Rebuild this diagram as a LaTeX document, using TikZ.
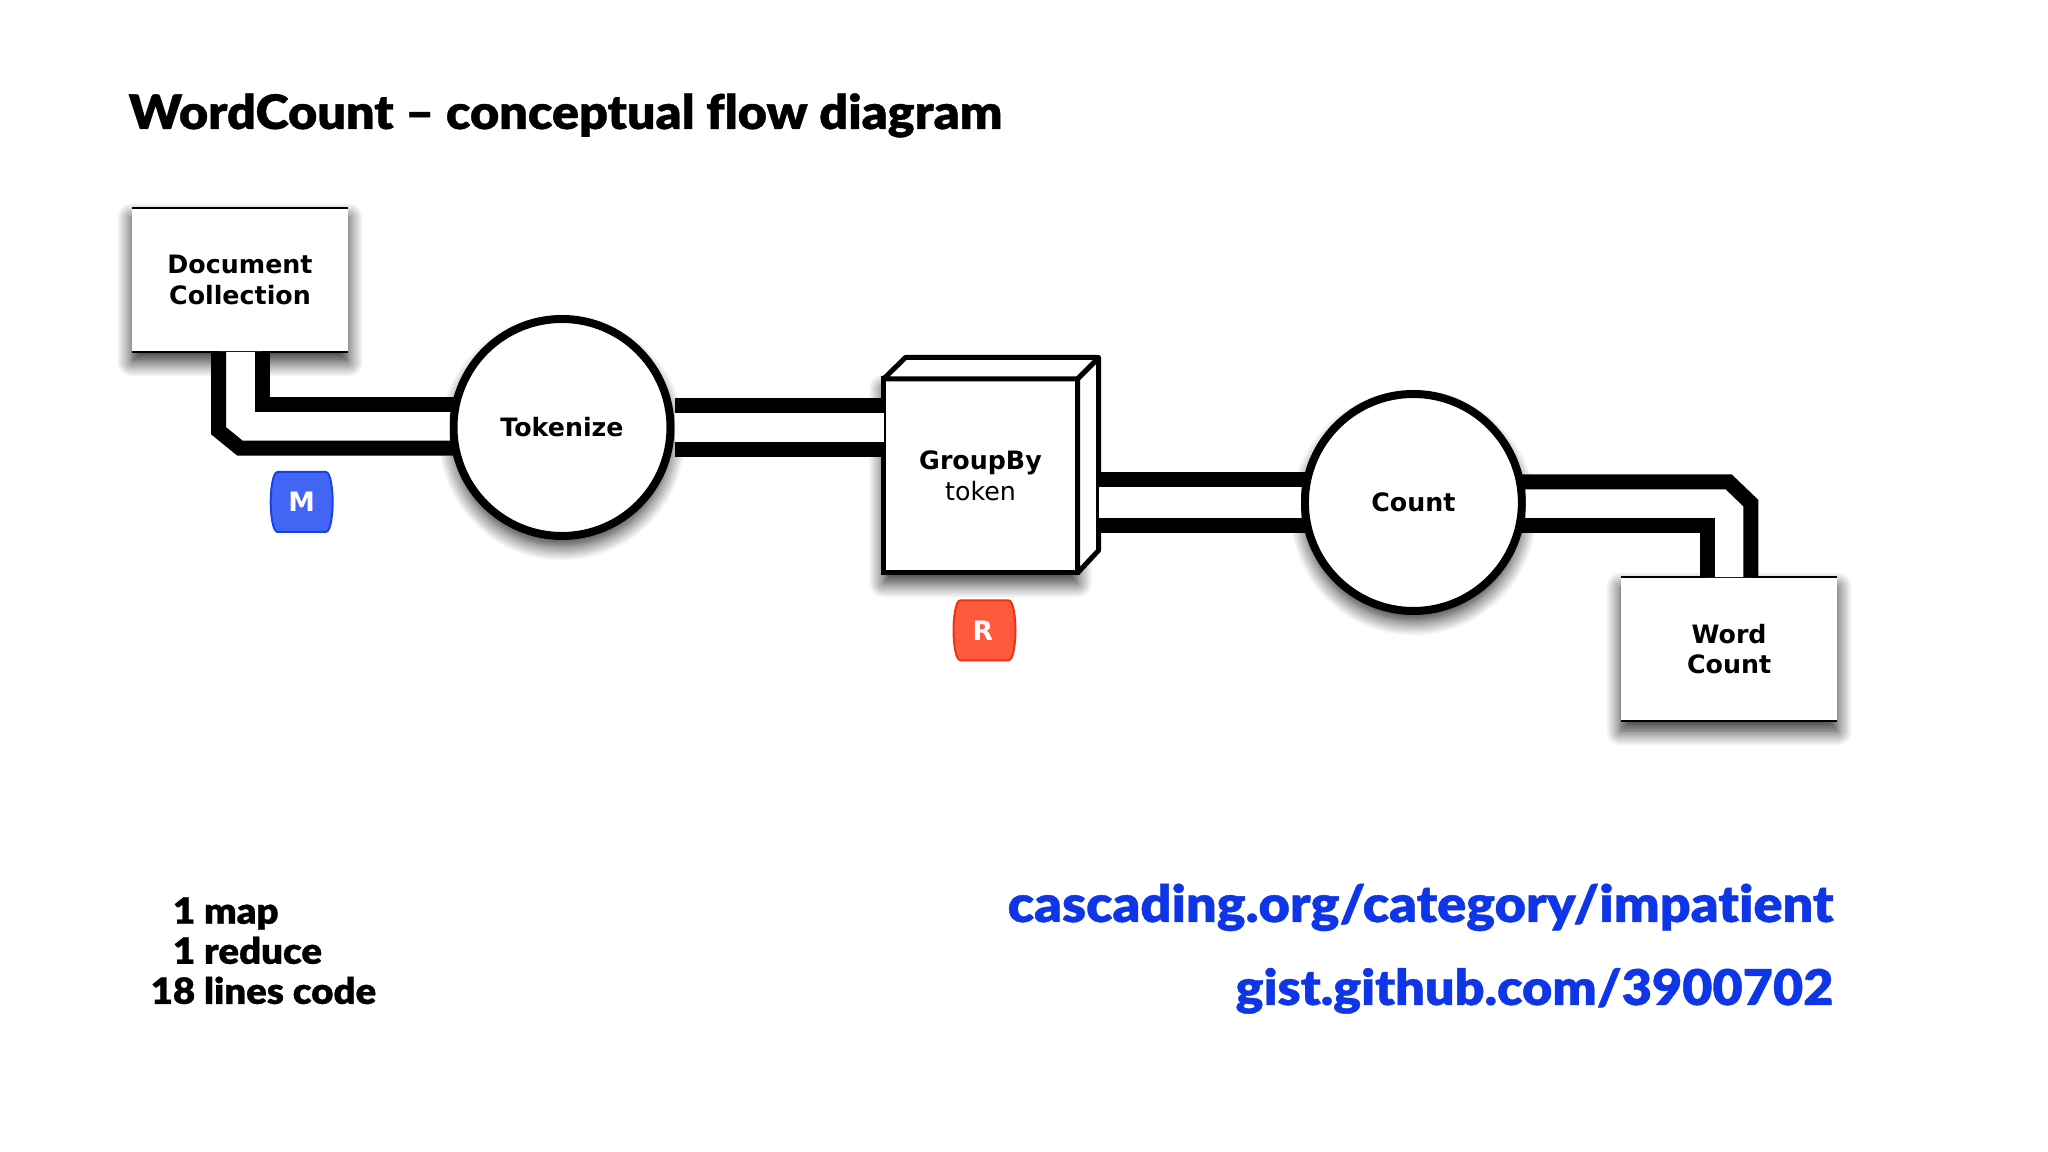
\documentclass[tikz,border=0pt]{standalone}
\usepackage{fontspec}
\setmainfont{DejaVu Sans}
\newfontfamily\heavyfont[FakeBold=0.8,FakeStretch=1.06,Ligatures=NoCommon]{Lato Black}
\usepackage{tikz}
\usetikzlibrary{calc,shadows.blur}
\definecolor{badgeblue}{HTML}{4466F6}
\definecolor{badgebluedark}{HTML}{1A40E8}
\definecolor{badgered}{HTML}{FF5A3E}
\definecolor{badgereddark}{HTML}{F03212}
\definecolor{linkblue}{HTML}{0F36E6}
\def\barrel[#1](#2){\filldraw[#1] ($(#2)+(-0.24,0.30)$) -- ($(#2)+(0.24,0.30)$) .. controls ($(#2)+(0.29,0.30)$) and ($(#2)+(0.31,0.12)$) .. ($(#2)+(0.31,0)$) .. controls ($(#2)+(0.31,-0.12)$) and ($(#2)+(0.29,-0.30)$) .. ($(#2)+(0.24,-0.30)$) -- ($(#2)+(-0.24,-0.30)$) .. controls ($(#2)+(-0.29,-0.30)$) and ($(#2)+(-0.31,-0.12)$) .. ($(#2)+(-0.31,0)$) .. controls ($(#2)+(-0.31,0.12)$) and ($(#2)+(-0.29,0.30)$) .. ($(#2)+(-0.24,0.30)$) -- cycle;}
\tikzset{
	dropshadow/.style={blur shadow={shadow xshift=0cm,shadow yshift=-0.10cm,shadow blur radius=0.15cm,shadow blur steps=14,shadow opacity=85}},
	tapbox/.style={rectangle,fill=white,minimum width=2.166cm,minimum height=1.44cm,outer sep=0,align=center,dropshadow},
	opcircle/.style={circle,draw=black,line width=0.08cm,fill=white,minimum size=2.17cm,outer sep=0,align=center,dropshadow},
	groupbox/.style={rectangle,draw=black,line width=0.05cm,fill=white,minimum size=1.94cm,outer sep=0,align=center},
	band/.style={line width=0.15cm,line join=miter},
	pipe/.style={line width=0.15cm,double=white,double distance=0.285cm},
	rimline/.style={line width=0.028cm},
	nodetext/.style={font=\fontsize{7.2}{8.8}\selectfont\bfseries},
	badgetext/.style={font=\fontsize{7.6}{8}\selectfont\bfseries,text=white},
	linktext/.style={anchor=base east,inner sep=0,text=linkblue,font=\fontsize{14.5}{16}\selectfont\heavyfont}
}
\begin{document}
\begin{tikzpicture}
	\useasboundingbox (0,0) rectangle (20.48,11.52);
	
	\node[anchor=base west,inner sep=0,font=\fontsize{13.5}{16}\selectfont\heavyfont] (title) at (1.28, 10.23) {WordCount – conceptual flow diagram};
	
	% flow nodes
	\node[tapbox,nodetext] (doc) at (2.40, 8.72) {Document\\Collection};
	\node[opcircle,nodetext] (tok) at (5.62, 7.245) {Tokenize};
	\node[groupbox,dropshadow,nodetext] (group) at (9.805, 6.76) {GroupBy\\{\mdseries token}};
	\node[opcircle,nodetext] (count) at (14.134, 6.495) {Count};
	\node[tapbox,nodetext] (word) at (17.291, 5.029) {Word\\Count};
	
	\draw[rimline] (doc.north west) -- (doc.north east);
	\draw[rimline] (doc.south west) -- (doc.south east);
	\draw[rimline] (word.north west) -- (word.north east);
	\draw[rimline] (word.south west) -- (word.south east);
	
	% box depth
	\draw[fill=white,line width=0.05cm,line join=round] (group.north west) -- ++(0.22,0.215) -- ++(1.93,0) -- ++(0,-1.93) -- (group.south east) -- (group.north east) -- cycle;
	\draw[line width=0.05cm] (group.north east) -- ++(0.215,0.215);
	\coordinate (groupback) at ([xshift=0.215cm]group.east);
	
	% doc to tok
	\coordinate (tokleft) at ([xshift=-0.04cm]tok.west);
	\coordinate (docbendb) at (tok.191 -| doc.south);
	\coordinate (docbenda) at ([xshift=-0.215cm,yshift=0.175cm]docbendb);
	\coordinate (docstarta) at ([xshift=-0.215cm]doc.south);
	\coordinate (docstartb) at ([xshift=0.22cm]doc.south);
	\fill[white] (docstarta) -- (docbenda) -- (docbendb) -- (tokleft |- docbendb) -- (tokleft |- tok.168) -- (docstartb |- tok.168) -- (docstartb) -- cycle;
	\draw[band] (docstarta) -- (docbenda) -- (docbendb) -- (tok.191);
	\draw[band] (docstartb) |- (tok.168);
	
	% tok to group
	\coordinate (tokright) at ([xshift=0.04cm]tok.east);
	\draw[pipe] (tokright) -- (tokright -| group.west);
	
	% group to count
	\coordinate (countleft) at ([xshift=-0.04cm]count.west);
	\fill[white] (groupback |- count.168) rectangle (countleft |- count.192);
	\draw[band] (groupback |- count.168) -- (count.168);
	\draw[band] (groupback |- count.192) -- (count.192);
	
	% count to word
	\coordinate (countright) at ([xshift=0.04cm]count.east);
	\coordinate (wordstarta) at ([xshift=0.217cm]word.north);
	\coordinate (wordstartb) at ([xshift=-0.217cm]word.north);
	\coordinate (wordbenda) at ([xshift=-0.222cm]wordstarta |- count.11);
	\coordinate (wordbendb) at ([yshift=-0.213cm]wordstarta |- count.11);
	\fill[white] (countright |- count.11) -- (wordbenda) -- (wordbendb) -- (wordstarta) -- (wordstartb) -- (wordstartb |- count.-12) -- (countright |- count.-12) -- cycle;
	\draw[band] (count.11) -- (wordbenda) -- (wordbendb) -- (wordstarta);
	\draw[band] (count.-12) -| (wordstartb);
	
	% badges
	\barrel[draw=badgebluedark,fill=badgeblue,line width=0.02cm](3.017, 6.50);
	\node[badgetext] (mapbadge) at (3.017, 6.50) {M};
	\barrel[draw=badgereddark,fill=badgered,line width=0.02cm](9.845, 5.217);
	\node[badgetext] (reducebadge) at (9.83, 5.217) {R};
	
	% counts
	\node[anchor=north west,inner sep=0,font=\fontsize{10.3}{11.4}\selectfont\heavyfont] (tally) at (1.50, 2.57) {\begin{tabular}{@{}r@{\ }l@{}}1 & map\\1 & reduce\\18 & lines code\end{tabular}};
	
	% links
	\node[linktext,font=\fontsize{14}{16}\selectfont\heavyfont] (gistlink) at (18.34, 1.47) {gist.github.com/3900702};
	\node[linktext] (cascadinglink) at (18.34, 2.30) {cascading.org/category/impatient};
\end{tikzpicture}
\end{document}
